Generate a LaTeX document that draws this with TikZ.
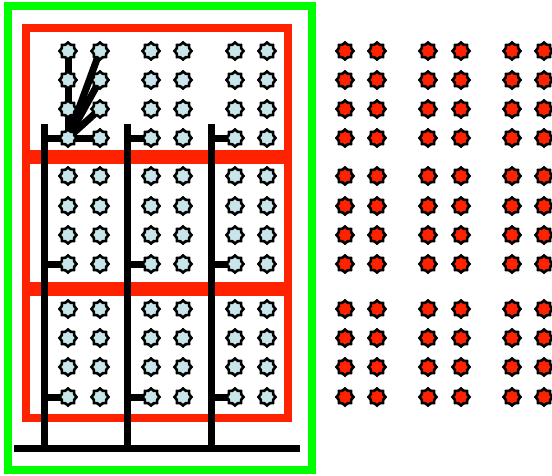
\documentclass[tikz,border=0pt]{standalone}
\usetikzlibrary{shapes.geometric}
\definecolor{gr}{HTML}{00FF00}
\definecolor{rd}{HTML}{FF2200}
\definecolor{lb}{HTML}{C8E6EA}
\pgfdeclarelayer{back}
\pgfdeclarelayer{mid}
\pgfsetlayers{back,mid,main}
\begin{document}
\begin{tikzpicture}[x=1pt,y=-1pt,
  pinshape/.style={star,star points=8,star point ratio=1.25,minimum size=17pt,inner sep=0pt,draw=black,line width=2.6pt},
  bluepin/.style={pinshape,fill=lb},
  redpin/.style={pinshape,fill=rd},
  wire/.style={line width=7pt,black},
  fanwire/.style={line width=7pt,black},
  greenframe/.style={line width=8pt,gr},
  redframe/.style={line width=8pt,rd},
  redbar/.style={line width=14pt,rd}]
\useasboundingbox (0,0) rectangle (552,475);
% nodes
\foreach \r/\y in {1/51,2/80,3/109,4/138,5/176,6/206,7/235,8/264,9/309,10/338,11/367,12/397}{
  \foreach \c/\x in {1/68,2/100,3/151,4/183,5/235,6/267}{
    \node[bluepin] (b-\r-\c) at (\x,\y) {};
  }
  \foreach \c/\x in {1/345,2/377,3/428,4/461,5/512,6/544}{
    \node[redpin] (r-\r-\c) at (\x,\y) {};
  }
}
% frames
\begin{pgfonlayer}{back}
  \draw[greenframe] (8,6) rectangle (312,470);
  \draw[redframe] (26,28) rectangle (288,418);
  \draw[redbar] (22,157) -- (292,157);
  \draw[redbar] (22,289) -- (292,289);
\end{pgfonlayer}
% wires
\begin{pgfonlayer}{mid}
  \foreach \i/\x in {1/44,2/127,3/211}{
    \coordinate (top\i) at (\x,124);
    \coordinate (bot\i) at (\x,448);
    \draw[wire] (top\i) -- (bot\i);
  }
  \coordinate (busL) at (14,448);
  \coordinate (busR) at (300,448);
  \draw[wire] (busL) -- (busR);
  \foreach \i/\x/\c in {1/44/1,2/127/3,3/211/5}{
    \foreach \r/\y in {4/138,8/264,12/397}{
      \coordinate (s\i-\r) at (\x,\y);
      \draw[wire] (s\i-\r) -- (b-\r-\c.center);
    }
  }
  \foreach \t in {b-1-1,b-2-1,b-3-1,b-1-2,b-2-2,b-3-2,b-4-2}{
    \draw[fanwire] (b-4-1.center) -- (\t.center);
  }
\end{pgfonlayer}
\end{tikzpicture}
\end{document}
